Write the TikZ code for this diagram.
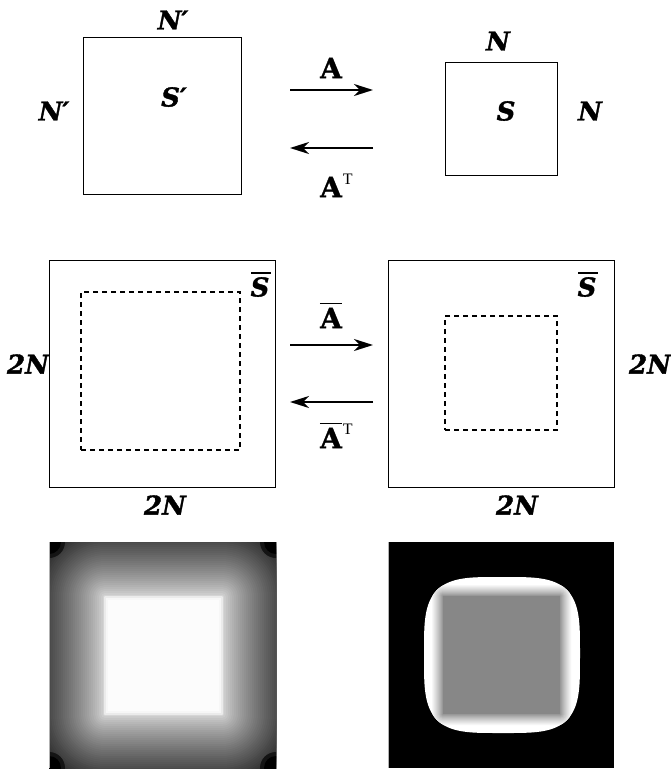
\documentclass[tikz,border=0pt]{standalone}
\usepackage{fontspec}
\newfontfamily\lblfont{DejaVu Serif Bold Italic}[FakeBold=1.4]
\newfontfamily\lblAfont{DejaVu Serif Bold}[FakeBold=1.2]
\newfontfamily\tfont{Liberation Serif}
\usetikzlibrary{arrows.meta}
\begin{document}
\begin{tikzpicture}[x=1pt,y=-1pt,
  box/.style={draw, line width=1pt, inner sep=0pt},
  dbox/.style={draw, line width=2pt, dash pattern=on 5pt off 4pt, inner sep=0pt},
  lbl/.style={font=\lblfont\fontsize{26}{26}\selectfont, inner sep=0pt},
  lblA/.style={font=\lblAfont\fontsize{28}{28}\selectfont, inner sep=0pt},
  supT/.style={font=\tfont\fontsize{16}{16}\selectfont, inner sep=0pt},
  arr/.style={line width=2.4pt, -{Stealth[length=19pt,width=12pt,inset=6pt]}},
  barline/.style={line width=1.5pt}]
\useasboundingbox (0,0) rectangle (671,769);

% ---------- top row ----------
\node[box, minimum width=158pt, minimum height=157pt] (boxSp) at (162,115.5) {};
\node[box, minimum width=112pt, minimum height=113pt] (boxS) at (501,118.5) {};
\node[lbl] (Nptop) at (173,20) {N′};
\node[lbl] (Npleft) at (54,111) {N′};
\node[lbl] (Sp) at (174,97) {S′};
\node[lbl] (Ntop) at (498,41) {N};
\node[lbl] (Slab) at (506,111) {S};
\node[lbl] (Nright) at (590,111) {N};

\coordinate (a1s) at (290,90);
\coordinate (a1e) at (373,90);
\coordinate (a2s) at (373,148);
\coordinate (a2e) at (290,148);
\draw[arr] (a1s) -- (a1e);
\draw[arr] (a2s) -- (a2e);
\node[lblA] (Aop) at (331,68) {A};
\node[lblA] (AopT) at (331,187) {A};
\node[supT, anchor=north west] (TopT) at ([xshift=0.5pt,yshift=3pt]AopT.north east) {T};

% ---------- middle row ----------
\node[box, minimum width=226pt, minimum height=227pt] (boxL) at (162,373.5) {};
\node[box, minimum width=226pt, minimum height=227pt] (boxR) at (501,373.5) {};
\node[dbox, minimum width=159pt, minimum height=158pt] (dL) at (160.5,371) {};
\node[dbox, minimum width=112pt, minimum height=114pt] (dR) at (501,373) {};

\node[lbl] (SbL) at (260,287) {S};
\node[lbl] (SbR) at (587,287) {S};
\draw[barline] ([xshift=1pt,yshift=4pt]SbL.north west) -- ([xshift=1pt,yshift=4pt]SbL.north east);
\draw[barline] ([xshift=1pt,yshift=4pt]SbR.north west) -- ([xshift=1pt,yshift=4pt]SbR.north east);

\node[lbl] (NNl) at (28,364) {2N};
\node[lbl] (NNr) at (650,364) {2N};
\node[lbl] (NNbl) at (165,505) {2N};
\node[lbl] (NNbr) at (517,505) {2N};

\coordinate (b1s) at (290,345);
\coordinate (b1e) at (373,345);
\coordinate (b2s) at (373,402);
\coordinate (b2e) at (290,402);
\draw[arr] (b1s) -- (b1e);
\draw[arr] (b2s) -- (b2e);
\node[lblA] (Abar) at (331,318) {A};
\draw[barline] ([yshift=4pt]Abar.north west) -- ([yshift=4pt]Abar.north east);
\node[lblA] (AbarT) at (331,438) {A};
\draw[barline] ([yshift=4pt]AbarT.north west) -- ([yshift=4pt]AbarT.north east);
\node[supT, anchor=north west] (TbarT) at ([xshift=0.5pt,yshift=4pt]AbarT.north east) {T};

% ---------- bottom left image ----------
\begin{scope}
\clip (49,542) rectangle (276,768);
\pgfmathsetmacro\bb{max(0,88-58*pow(84/55,0.75))}
\fill[white!\bb!black] (49,542) rectangle (276,768);
\foreach \d in {82,80,...,2} {
  \pgfmathsetmacro\bb{max(0,88-58*pow(\d/55,0.75))}
  \fill[white!\bb!black, rounded corners=\d pt] ({105-\d},{597-\d}) rectangle ({222+\d},{714+\d});
}
\fill[white!92!black, rounded corners=1pt] (104,596) rectangle (223,715);
\fill[white!97!black] (106,598) rectangle (221,713);
\fill[white!99!black] (108,600) rectangle (219,711);
\fill[black!92] (49,542) circle (16);
\fill[black!92] (276,542) circle (16);
\fill[black!92] (49,768) circle (16);
\fill[black!92] (276,768) circle (16);
\fill[black] (49,542) circle (12);
\fill[black] (276,542) circle (12);
\fill[black] (49,768) circle (12);
\fill[black] (276,768) circle (12);
\end{scope}
\draw[gray!60, line width=1pt] (49.5,542) -- (49.5,768);

% ---------- bottom right image ----------
\begin{scope}
\clip (388,542) rectangle (614,768);
\fill[black] (388,542) rectangle (614,768);
\end{scope}
\begin{scope}
\clip plot[domain=0:360, samples=180] ({502+78*sign(cos(\x))*pow(abs(cos(\x)),0.53)}, {655+78*sign(sin(\x))*pow(abs(sin(\x)),0.53)}) -- cycle;
\fill[white] (388,542) rectangle (614,768);
\foreach \d in {11,10,...,1} {
  \pgfmathsetmacro\bb{53+47*pow(\d/12,0.8)}
  \fill[white!\bb!black, rounded corners=\d pt] ({443-\d},{596-\d}) rectangle ({560+\d},{714+\d});
}
\fill[white!53!black] (443,596) rectangle (560,714);
\end{scope}
\draw[gray!60, line width=1pt] (388.5,542) -- (388.5,768);
\end{tikzpicture}
\end{document}
